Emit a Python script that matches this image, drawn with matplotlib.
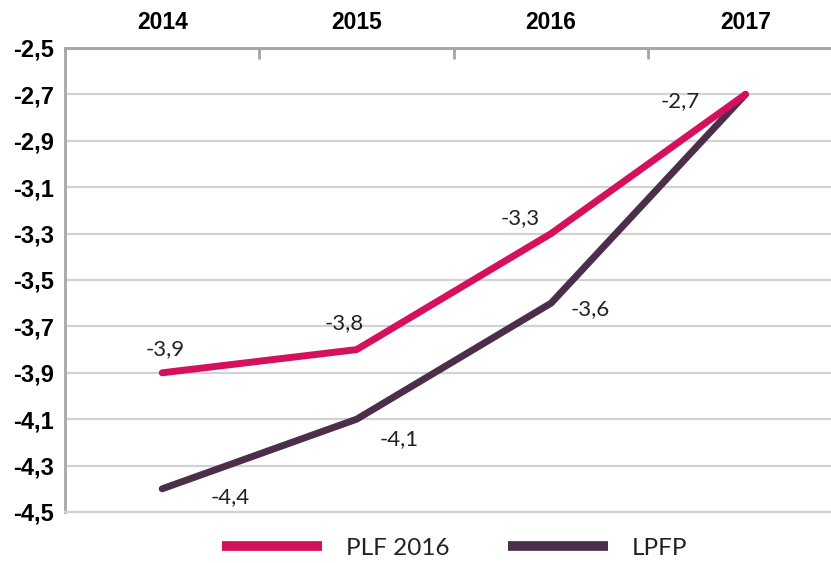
import matplotlib.pyplot as plt
from matplotlib.ticker import FixedLocator

years = ['2014', '2015', '2016', '2017']
plf_2016 = [-3.9, -3.8, -3.3, -2.7]
lpfp = [-4.4, -4.1, -3.6, -2.7]
yticks = [-2.5, -2.7, -2.9, -3.1, -3.3, -3.5, -3.7, -3.9, -4.1, -4.3, -4.5]

pink = '#d5105d'
plum = '#4b2f4a'

fig = plt.figure(figsize=(8.31, 5.63), dpi=100)
ax = fig.add_axes([65 / 831, 1 - 512 / 563, 1 - 65 / 831, (512 - 48) / 563])

x = range(len(years))
ax.plot(x, plf_2016, color=pink, lw=5, solid_capstyle='round', label='PLF 2016', zorder=3)
ax.plot(x, lpfp, color=plum, lw=5, solid_capstyle='round', label='LPFP', zorder=2)

ax.set_xlim(-0.5, 3.44)
ax.set_ylim(-4.5, -2.5)

# grid lines
for v in yticks[1:]:
    ax.axhline(v, color='#d2d2d2', lw=1.6, zorder=0)

ax.set_yticks(yticks)
ax.set_yticklabels([f'{v:.1f}'.replace('.', ',') for v in yticks],
                   fontfamily='Liberation Sans', fontweight='bold', fontsize=17)
ax.tick_params(axis='y', length=0, pad=8)

ax.xaxis.tick_top()
ax.xaxis.set_major_locator(FixedLocator([0.5, 1.5, 2.5]))
ax.xaxis.set_minor_locator(FixedLocator(list(x)))
ax.set_xticklabels([], minor=False)
ax.set_xticklabels(years, minor=True, fontfamily='Liberation Sans',
                   fontweight='bold', fontsize=16.5)
ax.tick_params(axis='x', which='major', direction='in', length=8, width=2,
               color='#a6a6a6', top=True, bottom=False)
ax.tick_params(axis='x', which='minor', length=0, pad=10, top=True, bottom=False)

ax.spines['right'].set_visible(False)
ax.spines['top'].set_color('#a6a6a6')
ax.spines['top'].set_linewidth(2.2)
ax.spines['left'].set_color('#a6a6a6')
ax.spines['left'].set_linewidth(2)
ax.spines['bottom'].set_color('#d2d2d2')
ax.spines['bottom'].set_linewidth(1.6)

# value labels
plf_off = [(2, 17), (-9, 19), (-22, 11), (-47, -5)]
lpfp_off = [(49, -6), (31, -14), (28, -4)]
for i, (v, off) in enumerate(zip(plf_2016, plf_off)):
    ax.annotate(f'{v:.1f}'.replace('.', ','), (i, v), xytext=off, textcoords='offset points',
                ha='center', va='center', fontsize=16, fontfamily='Lato', color='#222222')
for i, (v, off) in enumerate(zip(lpfp[:3], lpfp_off)):
    ax.annotate(f'{v:.1f}'.replace('.', ','), (i, v), xytext=off, textcoords='offset points',
                ha='center', va='center', fontsize=16, fontfamily='Lato', color='#222222')

leg = fig.legend(loc='center', bbox_to_anchor=(455 / 831, 1 - 548 / 563), ncol=2,
                 frameon=False, handlelength=4.1, columnspacing=2.4, handletextpad=1.0,
                 prop={'family': 'Lato', 'size': 17.5})
for h in leg.get_lines():
    h.set_linewidth(7)
    h.set_solid_capstyle('butt')
for t in leg.get_texts():
    t.set_color('#222222')

fig.savefig('out.png', dpi=100)
